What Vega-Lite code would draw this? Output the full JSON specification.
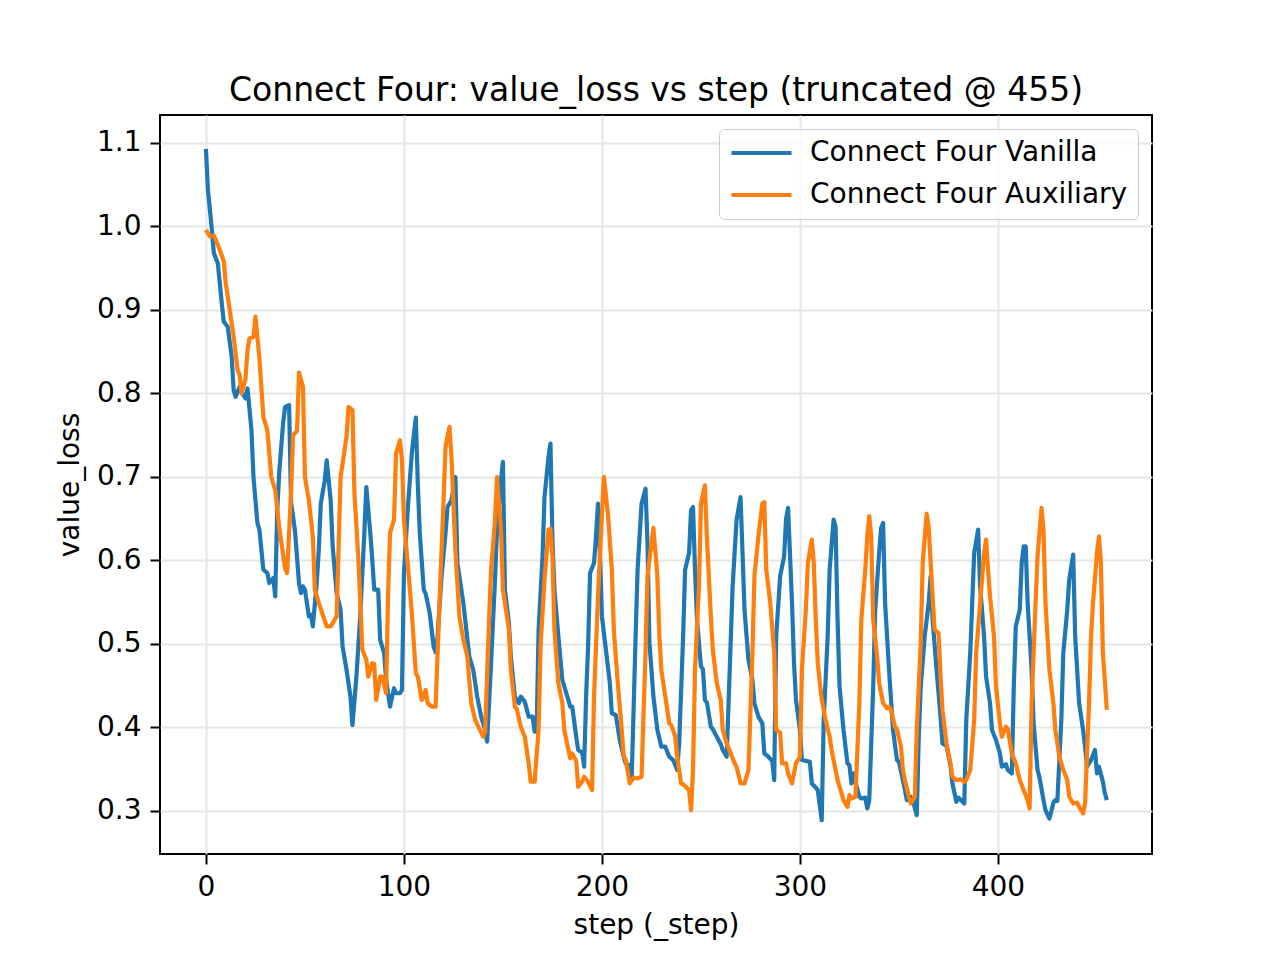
{
  "$schema": "https://vega.github.io/schema/vega-lite/v6.json",
  "width": 992,
  "height": 739,
  "autosize": {"type": "none"},
  "padding": {"left": 160, "top": 115, "right": 128, "bottom": 106},
  "background": "white",
  "title": {
    "text": "Connect Four: value_loss vs step (truncated @ 455)",
    "font": "DejaVu Sans",
    "fontSize": 33,
    "fontWeight": "normal",
    "color": "black",
    "anchor": "middle",
    "baseline": "alphabetic",
    "offset": 15,
    "dy": 34
  },
  "config": {
    "view": {"stroke": "black", "strokeWidth": 2},
    "font": "DejaVu Sans",
    "axis": {
      "labelFont": "DejaVu Sans",
      "titleFont": "DejaVu Sans",
      "labelFontSize": 28,
      "titleFontSize": 28,
      "titleFontWeight": "normal",
      "labelColor": "black",
      "titleColor": "black",
      "tickColor": "black",
      "tickSize": 10,
      "tickWidth": 2,
      "labelPadding": 9,
      "domain": false,
      "gridColor": "#e6e6e6",
      "gridWidth": 2
    }
  },
  "datasets": {
    "vanilla": [
      {"step": 0, "value_loss": 1.093}, {"step": 1, "value_loss": 1.044}, {"step": 3, "value_loss": 0.996}, {"step": 4, "value_loss": 0.968},
      {"step": 6, "value_loss": 0.956}, {"step": 8, "value_loss": 0.908}, {"step": 9, "value_loss": 0.886}, {"step": 11, "value_loss": 0.880},
      {"step": 13, "value_loss": 0.844}, {"step": 14, "value_loss": 0.804}, {"step": 15, "value_loss": 0.796}, {"step": 17, "value_loss": 0.808},
      {"step": 18, "value_loss": 0.802}, {"step": 20, "value_loss": 0.794}, {"step": 21, "value_loss": 0.806}, {"step": 23, "value_loss": 0.756},
      {"step": 24, "value_loss": 0.700}, {"step": 26, "value_loss": 0.645}, {"step": 27, "value_loss": 0.637}, {"step": 29, "value_loss": 0.589},
      {"step": 31, "value_loss": 0.585}, {"step": 32, "value_loss": 0.573}, {"step": 34, "value_loss": 0.579}, {"step": 35, "value_loss": 0.557},
      {"step": 36, "value_loss": 0.660}, {"step": 37, "value_loss": 0.705}, {"step": 39, "value_loss": 0.765}, {"step": 40, "value_loss": 0.784},
      {"step": 42, "value_loss": 0.786}, {"step": 43, "value_loss": 0.670}, {"step": 45, "value_loss": 0.635}, {"step": 47, "value_loss": 0.573},
      {"step": 48, "value_loss": 0.561}, {"step": 49, "value_loss": 0.569}, {"step": 50, "value_loss": 0.565}, {"step": 52, "value_loss": 0.533},
      {"step": 53, "value_loss": 0.535}, {"step": 54, "value_loss": 0.521}, {"step": 56, "value_loss": 0.575}, {"step": 57, "value_loss": 0.613},
      {"step": 58, "value_loss": 0.668}, {"step": 60, "value_loss": 0.696}, {"step": 61, "value_loss": 0.720}, {"step": 63, "value_loss": 0.672},
      {"step": 64, "value_loss": 0.617}, {"step": 66, "value_loss": 0.561}, {"step": 68, "value_loss": 0.541}, {"step": 69, "value_loss": 0.497},
      {"step": 71, "value_loss": 0.469}, {"step": 73, "value_loss": 0.437}, {"step": 74, "value_loss": 0.403}, {"step": 76, "value_loss": 0.461},
      {"step": 78, "value_loss": 0.537}, {"step": 80, "value_loss": 0.633}, {"step": 81, "value_loss": 0.688}, {"step": 83, "value_loss": 0.633},
      {"step": 84, "value_loss": 0.601}, {"step": 85, "value_loss": 0.565}, {"step": 87, "value_loss": 0.565}, {"step": 88, "value_loss": 0.505},
      {"step": 90, "value_loss": 0.489}, {"step": 91, "value_loss": 0.457}, {"step": 93, "value_loss": 0.425}, {"step": 95, "value_loss": 0.447},
      {"step": 96, "value_loss": 0.441}, {"step": 98, "value_loss": 0.441}, {"step": 99, "value_loss": 0.445}, {"step": 100, "value_loss": 0.585},
      {"step": 102, "value_loss": 0.664}, {"step": 104, "value_loss": 0.729}, {"step": 106, "value_loss": 0.771}, {"step": 107, "value_loss": 0.692},
      {"step": 108, "value_loss": 0.633}, {"step": 110, "value_loss": 0.565}, {"step": 111, "value_loss": 0.560}, {"step": 113, "value_loss": 0.537},
      {"step": 115, "value_loss": 0.497}, {"step": 116, "value_loss": 0.490}, {"step": 117, "value_loss": 0.509}, {"step": 119, "value_loss": 0.581},
      {"step": 121, "value_loss": 0.633}, {"step": 122, "value_loss": 0.664}, {"step": 124, "value_loss": 0.672}, {"step": 126, "value_loss": 0.700},
      {"step": 127, "value_loss": 0.597}, {"step": 130, "value_loss": 0.549}, {"step": 133, "value_loss": 0.485}, {"step": 135, "value_loss": 0.469},
      {"step": 137, "value_loss": 0.437}, {"step": 139, "value_loss": 0.413}, {"step": 141, "value_loss": 0.397}, {"step": 142, "value_loss": 0.383},
      {"step": 144, "value_loss": 0.477}, {"step": 146, "value_loss": 0.577}, {"step": 147, "value_loss": 0.637}, {"step": 149, "value_loss": 0.696},
      {"step": 150, "value_loss": 0.718}, {"step": 151, "value_loss": 0.565}, {"step": 153, "value_loss": 0.525}, {"step": 154, "value_loss": 0.485},
      {"step": 156, "value_loss": 0.437}, {"step": 158, "value_loss": 0.429}, {"step": 159, "value_loss": 0.437}, {"step": 161, "value_loss": 0.431},
      {"step": 163, "value_loss": 0.413}, {"step": 165, "value_loss": 0.413}, {"step": 166, "value_loss": 0.395}, {"step": 167, "value_loss": 0.395},
      {"step": 168, "value_loss": 0.517}, {"step": 170, "value_loss": 0.605}, {"step": 171, "value_loss": 0.676}, {"step": 173, "value_loss": 0.724},
      {"step": 174, "value_loss": 0.740}, {"step": 175, "value_loss": 0.625}, {"step": 176, "value_loss": 0.565}, {"step": 178, "value_loss": 0.509},
      {"step": 180, "value_loss": 0.457}, {"step": 182, "value_loss": 0.441}, {"step": 184, "value_loss": 0.425}, {"step": 185, "value_loss": 0.425},
      {"step": 187, "value_loss": 0.389}, {"step": 188, "value_loss": 0.373}, {"step": 190, "value_loss": 0.370}, {"step": 191, "value_loss": 0.353},
      {"step": 192, "value_loss": 0.437}, {"step": 193, "value_loss": 0.497}, {"step": 194, "value_loss": 0.585}, {"step": 196, "value_loss": 0.597},
      {"step": 197, "value_loss": 0.629}, {"step": 198, "value_loss": 0.668}, {"step": 199, "value_loss": 0.605}, {"step": 200, "value_loss": 0.533},
      {"step": 202, "value_loss": 0.493}, {"step": 204, "value_loss": 0.453}, {"step": 205, "value_loss": 0.417}, {"step": 207, "value_loss": 0.415},
      {"step": 209, "value_loss": 0.385}, {"step": 211, "value_loss": 0.365}, {"step": 212, "value_loss": 0.357}, {"step": 214, "value_loss": 0.355},
      {"step": 215, "value_loss": 0.337}, {"step": 217, "value_loss": 0.509}, {"step": 218, "value_loss": 0.589}, {"step": 220, "value_loss": 0.668},
      {"step": 222, "value_loss": 0.686}, {"step": 223, "value_loss": 0.621}, {"step": 224, "value_loss": 0.501}, {"step": 226, "value_loss": 0.437},
      {"step": 228, "value_loss": 0.397}, {"step": 230, "value_loss": 0.377}, {"step": 232, "value_loss": 0.377}, {"step": 234, "value_loss": 0.365},
      {"step": 236, "value_loss": 0.361}, {"step": 238, "value_loss": 0.349}, {"step": 239, "value_loss": 0.381}, {"step": 241, "value_loss": 0.509},
      {"step": 242, "value_loss": 0.589}, {"step": 244, "value_loss": 0.609}, {"step": 245, "value_loss": 0.660}, {"step": 246, "value_loss": 0.664},
      {"step": 247, "value_loss": 0.589}, {"step": 248, "value_loss": 0.529}, {"step": 250, "value_loss": 0.473}, {"step": 251, "value_loss": 0.470},
      {"step": 252, "value_loss": 0.433}, {"step": 253, "value_loss": 0.430}, {"step": 255, "value_loss": 0.401}, {"step": 256, "value_loss": 0.398},
      {"step": 258, "value_loss": 0.389}, {"step": 260, "value_loss": 0.380}, {"step": 261, "value_loss": 0.373}, {"step": 263, "value_loss": 0.365},
      {"step": 265, "value_loss": 0.501}, {"step": 266, "value_loss": 0.569}, {"step": 268, "value_loss": 0.649}, {"step": 270, "value_loss": 0.676},
      {"step": 271, "value_loss": 0.609}, {"step": 272, "value_loss": 0.541}, {"step": 274, "value_loss": 0.481}, {"step": 276, "value_loss": 0.457},
      {"step": 277, "value_loss": 0.429}, {"step": 279, "value_loss": 0.413}, {"step": 281, "value_loss": 0.405}, {"step": 282, "value_loss": 0.369},
      {"step": 284, "value_loss": 0.365}, {"step": 286, "value_loss": 0.360}, {"step": 287, "value_loss": 0.337}, {"step": 288, "value_loss": 0.509},
      {"step": 290, "value_loss": 0.581}, {"step": 292, "value_loss": 0.605}, {"step": 293, "value_loss": 0.650}, {"step": 294, "value_loss": 0.663},
      {"step": 296, "value_loss": 0.549}, {"step": 297, "value_loss": 0.477}, {"step": 298, "value_loss": 0.433}, {"step": 300, "value_loss": 0.397},
      {"step": 301, "value_loss": 0.361}, {"step": 303, "value_loss": 0.360}, {"step": 305, "value_loss": 0.359}, {"step": 306, "value_loss": 0.333},
      {"step": 308, "value_loss": 0.328}, {"step": 309, "value_loss": 0.325}, {"step": 311, "value_loss": 0.289}, {"step": 312, "value_loss": 0.409},
      {"step": 314, "value_loss": 0.509}, {"step": 315, "value_loss": 0.589}, {"step": 317, "value_loss": 0.649}, {"step": 318, "value_loss": 0.640},
      {"step": 319, "value_loss": 0.529}, {"step": 320, "value_loss": 0.449}, {"step": 322, "value_loss": 0.397}, {"step": 324, "value_loss": 0.357},
      {"step": 325, "value_loss": 0.355}, {"step": 326, "value_loss": 0.333}, {"step": 327, "value_loss": 0.345}, {"step": 328, "value_loss": 0.335},
      {"step": 330, "value_loss": 0.317}, {"step": 331, "value_loss": 0.315}, {"step": 333, "value_loss": 0.316}, {"step": 334, "value_loss": 0.303},
      {"step": 335, "value_loss": 0.313}, {"step": 337, "value_loss": 0.449}, {"step": 338, "value_loss": 0.541}, {"step": 340, "value_loss": 0.609},
      {"step": 341, "value_loss": 0.639}, {"step": 342, "value_loss": 0.645}, {"step": 343, "value_loss": 0.549}, {"step": 345, "value_loss": 0.469},
      {"step": 346, "value_loss": 0.433}, {"step": 347, "value_loss": 0.397}, {"step": 349, "value_loss": 0.361}, {"step": 350, "value_loss": 0.359},
      {"step": 352, "value_loss": 0.337}, {"step": 354, "value_loss": 0.313}, {"step": 356, "value_loss": 0.317}, {"step": 357, "value_loss": 0.313},
      {"step": 359, "value_loss": 0.295}, {"step": 360, "value_loss": 0.389}, {"step": 361, "value_loss": 0.449}, {"step": 363, "value_loss": 0.509},
      {"step": 365, "value_loss": 0.549}, {"step": 366, "value_loss": 0.581}, {"step": 367, "value_loss": 0.529}, {"step": 369, "value_loss": 0.469},
      {"step": 371, "value_loss": 0.413}, {"step": 372, "value_loss": 0.381}, {"step": 374, "value_loss": 0.378}, {"step": 376, "value_loss": 0.355},
      {"step": 377, "value_loss": 0.333}, {"step": 379, "value_loss": 0.311}, {"step": 380, "value_loss": 0.316}, {"step": 381, "value_loss": 0.314},
      {"step": 383, "value_loss": 0.309}, {"step": 384, "value_loss": 0.409}, {"step": 386, "value_loss": 0.489}, {"step": 387, "value_loss": 0.549},
      {"step": 388, "value_loss": 0.609}, {"step": 390, "value_loss": 0.637}, {"step": 391, "value_loss": 0.569}, {"step": 393, "value_loss": 0.509},
      {"step": 394, "value_loss": 0.461}, {"step": 396, "value_loss": 0.429}, {"step": 397, "value_loss": 0.397}, {"step": 399, "value_loss": 0.385},
      {"step": 401, "value_loss": 0.369}, {"step": 402, "value_loss": 0.353}, {"step": 404, "value_loss": 0.356}, {"step": 405, "value_loss": 0.349},
      {"step": 407, "value_loss": 0.345}, {"step": 408, "value_loss": 0.449}, {"step": 409, "value_loss": 0.521}, {"step": 411, "value_loss": 0.541},
      {"step": 412, "value_loss": 0.597}, {"step": 413, "value_loss": 0.617}, {"step": 414, "value_loss": 0.617}, {"step": 415, "value_loss": 0.549},
      {"step": 417, "value_loss": 0.469}, {"step": 418, "value_loss": 0.405}, {"step": 420, "value_loss": 0.349}, {"step": 421, "value_loss": 0.340},
      {"step": 423, "value_loss": 0.313}, {"step": 424, "value_loss": 0.301}, {"step": 426, "value_loss": 0.291}, {"step": 427, "value_loss": 0.300},
      {"step": 428, "value_loss": 0.310}, {"step": 429, "value_loss": 0.313}, {"step": 430, "value_loss": 0.312}, {"step": 432, "value_loss": 0.409},
      {"step": 433, "value_loss": 0.489}, {"step": 435, "value_loss": 0.541}, {"step": 436, "value_loss": 0.577}, {"step": 438, "value_loss": 0.607},
      {"step": 439, "value_loss": 0.509}, {"step": 441, "value_loss": 0.429}, {"step": 443, "value_loss": 0.397}, {"step": 444, "value_loss": 0.377},
      {"step": 445, "value_loss": 0.353}, {"step": 447, "value_loss": 0.361}, {"step": 449, "value_loss": 0.373}, {"step": 450, "value_loss": 0.345},
      {"step": 451, "value_loss": 0.353}, {"step": 453, "value_loss": 0.335}, {"step": 454, "value_loss": 0.321}, {"step": 455, "value_loss": 0.313}
    ],
    "auxiliary": [
      {"step": 0, "value_loss": 0.996}, {"step": 2, "value_loss": 0.988}, {"step": 4, "value_loss": 0.989}, {"step": 5, "value_loss": 0.984},
      {"step": 7, "value_loss": 0.972}, {"step": 9, "value_loss": 0.958}, {"step": 10, "value_loss": 0.932}, {"step": 12, "value_loss": 0.900},
      {"step": 14, "value_loss": 0.868}, {"step": 16, "value_loss": 0.828}, {"step": 17, "value_loss": 0.822}, {"step": 18, "value_loss": 0.800},
      {"step": 20, "value_loss": 0.818}, {"step": 21, "value_loss": 0.852}, {"step": 22, "value_loss": 0.866}, {"step": 24, "value_loss": 0.868},
      {"step": 25, "value_loss": 0.892}, {"step": 27, "value_loss": 0.842}, {"step": 29, "value_loss": 0.772}, {"step": 31, "value_loss": 0.756},
      {"step": 33, "value_loss": 0.700}, {"step": 35, "value_loss": 0.684}, {"step": 37, "value_loss": 0.640}, {"step": 40, "value_loss": 0.590},
      {"step": 41, "value_loss": 0.585}, {"step": 43, "value_loss": 0.682}, {"step": 44, "value_loss": 0.750}, {"step": 46, "value_loss": 0.755},
      {"step": 47, "value_loss": 0.825}, {"step": 49, "value_loss": 0.808}, {"step": 50, "value_loss": 0.700}, {"step": 52, "value_loss": 0.672},
      {"step": 54, "value_loss": 0.628}, {"step": 55, "value_loss": 0.565}, {"step": 57, "value_loss": 0.549}, {"step": 59, "value_loss": 0.535},
      {"step": 61, "value_loss": 0.521}, {"step": 63, "value_loss": 0.521}, {"step": 64, "value_loss": 0.525}, {"step": 66, "value_loss": 0.533},
      {"step": 68, "value_loss": 0.700}, {"step": 71, "value_loss": 0.748}, {"step": 72, "value_loss": 0.784}, {"step": 74, "value_loss": 0.780},
      {"step": 75, "value_loss": 0.680}, {"step": 77, "value_loss": 0.601}, {"step": 79, "value_loss": 0.493}, {"step": 81, "value_loss": 0.481},
      {"step": 82, "value_loss": 0.461}, {"step": 84, "value_loss": 0.477}, {"step": 85, "value_loss": 0.476}, {"step": 86, "value_loss": 0.433},
      {"step": 88, "value_loss": 0.461}, {"step": 89, "value_loss": 0.461}, {"step": 91, "value_loss": 0.441}, {"step": 92, "value_loss": 0.561},
      {"step": 93, "value_loss": 0.633}, {"step": 95, "value_loss": 0.649}, {"step": 96, "value_loss": 0.728}, {"step": 98, "value_loss": 0.744},
      {"step": 99, "value_loss": 0.720}, {"step": 100, "value_loss": 0.649}, {"step": 102, "value_loss": 0.593}, {"step": 104, "value_loss": 0.537},
      {"step": 106, "value_loss": 0.465}, {"step": 107, "value_loss": 0.461}, {"step": 109, "value_loss": 0.433}, {"step": 111, "value_loss": 0.445},
      {"step": 112, "value_loss": 0.429}, {"step": 114, "value_loss": 0.425}, {"step": 116, "value_loss": 0.425}, {"step": 118, "value_loss": 0.553},
      {"step": 120, "value_loss": 0.672}, {"step": 121, "value_loss": 0.736}, {"step": 123, "value_loss": 0.760}, {"step": 124, "value_loss": 0.724},
      {"step": 126, "value_loss": 0.612}, {"step": 128, "value_loss": 0.533}, {"step": 130, "value_loss": 0.505}, {"step": 132, "value_loss": 0.485},
      {"step": 134, "value_loss": 0.429}, {"step": 136, "value_loss": 0.409}, {"step": 138, "value_loss": 0.399}, {"step": 140, "value_loss": 0.389},
      {"step": 141, "value_loss": 0.395}, {"step": 143, "value_loss": 0.530}, {"step": 144, "value_loss": 0.589}, {"step": 146, "value_loss": 0.649},
      {"step": 147, "value_loss": 0.700}, {"step": 149, "value_loss": 0.637}, {"step": 150, "value_loss": 0.565}, {"step": 153, "value_loss": 0.517},
      {"step": 154, "value_loss": 0.469}, {"step": 156, "value_loss": 0.425}, {"step": 157, "value_loss": 0.422}, {"step": 159, "value_loss": 0.401},
      {"step": 161, "value_loss": 0.389}, {"step": 163, "value_loss": 0.357}, {"step": 164, "value_loss": 0.335}, {"step": 166, "value_loss": 0.335},
      {"step": 168, "value_loss": 0.397}, {"step": 169, "value_loss": 0.497}, {"step": 171, "value_loss": 0.577}, {"step": 173, "value_loss": 0.637},
      {"step": 174, "value_loss": 0.638}, {"step": 175, "value_loss": 0.605}, {"step": 176, "value_loss": 0.517}, {"step": 178, "value_loss": 0.453},
      {"step": 180, "value_loss": 0.429}, {"step": 181, "value_loss": 0.397}, {"step": 182, "value_loss": 0.385}, {"step": 184, "value_loss": 0.363},
      {"step": 185, "value_loss": 0.369}, {"step": 187, "value_loss": 0.360}, {"step": 188, "value_loss": 0.329}, {"step": 190, "value_loss": 0.335},
      {"step": 191, "value_loss": 0.341}, {"step": 193, "value_loss": 0.335}, {"step": 195, "value_loss": 0.325}, {"step": 196, "value_loss": 0.437},
      {"step": 198, "value_loss": 0.557}, {"step": 200, "value_loss": 0.656}, {"step": 201, "value_loss": 0.700}, {"step": 203, "value_loss": 0.656},
      {"step": 205, "value_loss": 0.589}, {"step": 206, "value_loss": 0.517}, {"step": 208, "value_loss": 0.453}, {"step": 210, "value_loss": 0.397},
      {"step": 211, "value_loss": 0.365}, {"step": 212, "value_loss": 0.362}, {"step": 214, "value_loss": 0.333}, {"step": 216, "value_loss": 0.340},
      {"step": 218, "value_loss": 0.339}, {"step": 220, "value_loss": 0.341}, {"step": 222, "value_loss": 0.489}, {"step": 223, "value_loss": 0.581},
      {"step": 225, "value_loss": 0.621}, {"step": 226, "value_loss": 0.639}, {"step": 228, "value_loss": 0.581}, {"step": 229, "value_loss": 0.509},
      {"step": 230, "value_loss": 0.469}, {"step": 232, "value_loss": 0.437}, {"step": 234, "value_loss": 0.405}, {"step": 235, "value_loss": 0.403},
      {"step": 237, "value_loss": 0.389}, {"step": 238, "value_loss": 0.365}, {"step": 240, "value_loss": 0.333}, {"step": 241, "value_loss": 0.332},
      {"step": 244, "value_loss": 0.325}, {"step": 245, "value_loss": 0.301}, {"step": 246, "value_loss": 0.349}, {"step": 247, "value_loss": 0.469},
      {"step": 249, "value_loss": 0.569}, {"step": 250, "value_loss": 0.668}, {"step": 252, "value_loss": 0.690}, {"step": 253, "value_loss": 0.628},
      {"step": 255, "value_loss": 0.533}, {"step": 256, "value_loss": 0.493}, {"step": 258, "value_loss": 0.453}, {"step": 260, "value_loss": 0.433},
      {"step": 261, "value_loss": 0.397}, {"step": 263, "value_loss": 0.381}, {"step": 265, "value_loss": 0.369}, {"step": 267, "value_loss": 0.357},
      {"step": 268, "value_loss": 0.353}, {"step": 270, "value_loss": 0.333}, {"step": 272, "value_loss": 0.333}, {"step": 274, "value_loss": 0.349},
      {"step": 276, "value_loss": 0.489}, {"step": 277, "value_loss": 0.581}, {"step": 279, "value_loss": 0.629}, {"step": 281, "value_loss": 0.668},
      {"step": 282, "value_loss": 0.670}, {"step": 283, "value_loss": 0.589}, {"step": 285, "value_loss": 0.549}, {"step": 287, "value_loss": 0.489},
      {"step": 288, "value_loss": 0.397}, {"step": 290, "value_loss": 0.394}, {"step": 291, "value_loss": 0.357}, {"step": 293, "value_loss": 0.357},
      {"step": 294, "value_loss": 0.345}, {"step": 296, "value_loss": 0.333}, {"step": 297, "value_loss": 0.345}, {"step": 298, "value_loss": 0.357},
      {"step": 300, "value_loss": 0.365}, {"step": 301, "value_loss": 0.469}, {"step": 303, "value_loss": 0.541}, {"step": 304, "value_loss": 0.597},
      {"step": 306, "value_loss": 0.625}, {"step": 307, "value_loss": 0.597}, {"step": 308, "value_loss": 0.529}, {"step": 309, "value_loss": 0.477},
      {"step": 311, "value_loss": 0.433}, {"step": 313, "value_loss": 0.409}, {"step": 315, "value_loss": 0.389}, {"step": 316, "value_loss": 0.373},
      {"step": 318, "value_loss": 0.349}, {"step": 319, "value_loss": 0.337}, {"step": 321, "value_loss": 0.321}, {"step": 322, "value_loss": 0.313},
      {"step": 324, "value_loss": 0.305}, {"step": 325, "value_loss": 0.319}, {"step": 326, "value_loss": 0.315}, {"step": 328, "value_loss": 0.317},
      {"step": 330, "value_loss": 0.429}, {"step": 331, "value_loss": 0.529}, {"step": 333, "value_loss": 0.589}, {"step": 334, "value_loss": 0.629},
      {"step": 335, "value_loss": 0.653}, {"step": 336, "value_loss": 0.629}, {"step": 337, "value_loss": 0.529}, {"step": 339, "value_loss": 0.485},
      {"step": 340, "value_loss": 0.453}, {"step": 342, "value_loss": 0.429}, {"step": 344, "value_loss": 0.423}, {"step": 345, "value_loss": 0.425},
      {"step": 346, "value_loss": 0.421}, {"step": 348, "value_loss": 0.401}, {"step": 349, "value_loss": 0.398}, {"step": 351, "value_loss": 0.377},
      {"step": 352, "value_loss": 0.349}, {"step": 353, "value_loss": 0.337}, {"step": 355, "value_loss": 0.317}, {"step": 356, "value_loss": 0.309},
      {"step": 358, "value_loss": 0.317}, {"step": 359, "value_loss": 0.397}, {"step": 361, "value_loss": 0.501}, {"step": 362, "value_loss": 0.597},
      {"step": 364, "value_loss": 0.656}, {"step": 365, "value_loss": 0.640}, {"step": 367, "value_loss": 0.557}, {"step": 368, "value_loss": 0.517},
      {"step": 370, "value_loss": 0.513}, {"step": 371, "value_loss": 0.461}, {"step": 372, "value_loss": 0.421}, {"step": 374, "value_loss": 0.381},
      {"step": 376, "value_loss": 0.357}, {"step": 377, "value_loss": 0.341}, {"step": 379, "value_loss": 0.337}, {"step": 381, "value_loss": 0.338},
      {"step": 383, "value_loss": 0.335}, {"step": 384, "value_loss": 0.337}, {"step": 386, "value_loss": 0.349}, {"step": 388, "value_loss": 0.409},
      {"step": 389, "value_loss": 0.489}, {"step": 391, "value_loss": 0.549}, {"step": 393, "value_loss": 0.609}, {"step": 394, "value_loss": 0.625},
      {"step": 395, "value_loss": 0.589}, {"step": 396, "value_loss": 0.557}, {"step": 398, "value_loss": 0.509}, {"step": 399, "value_loss": 0.449},
      {"step": 401, "value_loss": 0.405}, {"step": 402, "value_loss": 0.389}, {"step": 404, "value_loss": 0.401}, {"step": 405, "value_loss": 0.398},
      {"step": 407, "value_loss": 0.369}, {"step": 409, "value_loss": 0.357}, {"step": 411, "value_loss": 0.337}, {"step": 413, "value_loss": 0.325},
      {"step": 415, "value_loss": 0.313}, {"step": 416, "value_loss": 0.303}, {"step": 417, "value_loss": 0.429}, {"step": 419, "value_loss": 0.549},
      {"step": 420, "value_loss": 0.605}, {"step": 422, "value_loss": 0.663}, {"step": 423, "value_loss": 0.637}, {"step": 424, "value_loss": 0.549},
      {"step": 426, "value_loss": 0.469}, {"step": 428, "value_loss": 0.429}, {"step": 429, "value_loss": 0.397}, {"step": 431, "value_loss": 0.365},
      {"step": 433, "value_loss": 0.349}, {"step": 435, "value_loss": 0.337}, {"step": 436, "value_loss": 0.317}, {"step": 438, "value_loss": 0.309},
      {"step": 440, "value_loss": 0.310}, {"step": 441, "value_loss": 0.305}, {"step": 443, "value_loss": 0.297}, {"step": 444, "value_loss": 0.309},
      {"step": 446, "value_loss": 0.429}, {"step": 447, "value_loss": 0.509}, {"step": 448, "value_loss": 0.549}, {"step": 450, "value_loss": 0.609},
      {"step": 451, "value_loss": 0.629}, {"step": 452, "value_loss": 0.597}, {"step": 453, "value_loss": 0.489}, {"step": 455, "value_loss": 0.421}
    ]
  },
  "encoding": {
    "x": {
      "field": "step",
      "type": "quantitative",
      "scale": {"domain": [-23.2, 477.8], "nice": false, "zero": false},
      "axis": {"values": [0, 100, 200, 300, 400], "title": "step (_step)", "titlePadding": 10}
    },
    "y": {
      "field": "value_loss",
      "type": "quantitative",
      "scale": {"domain": [0.2485, 1.1335], "nice": false, "zero": false},
      "axis": {"values": [0.3, 0.4, 0.5, 0.6, 0.7, 0.8, 0.9, 1.0, 1.1], "format": ".1f", "title": "value_loss", "titlePadding": 12}
    }
  },
  "layer": [
    {
      "data": {"name": "vanilla"},
      "mark": {"type": "line", "strokeWidth": 4.2, "strokeJoin": "round"},
      "encoding": {
        "color": {
          "datum": "Connect Four Vanilla",
          "type": "nominal",
          "scale": {"domain": ["Connect Four Vanilla", "Connect Four Auxiliary"], "range": ["#1f77b4", "#ff7f0e"]},
          "legend": {
            "title": null,
            "orient": "top-right",
            "offset": 14,
            "symbolType": "stroke",
            "symbolSize": 3600,
            "symbolStrokeWidth": 4.2,
            "labelFont": "DejaVu Sans",
            "labelFontSize": 28,
            "labelColor": "black",
            "labelLimit": 0,
            "labelOffset": 16,
            "clipHeight": 28,
            "rowPadding": 14,
            "padding": 10,
            "strokeColor": "#cccccc",
            "fillColor": "rgba(255,255,255,0.8)",
            "cornerRadius": 5
          }
        }
      }
    },
    {
      "data": {"name": "auxiliary"},
      "mark": {"type": "line", "strokeWidth": 4.2, "strokeJoin": "round"},
      "encoding": {
        "color": {"datum": "Connect Four Auxiliary", "type": "nominal"}
      }
    }
  ]
}
